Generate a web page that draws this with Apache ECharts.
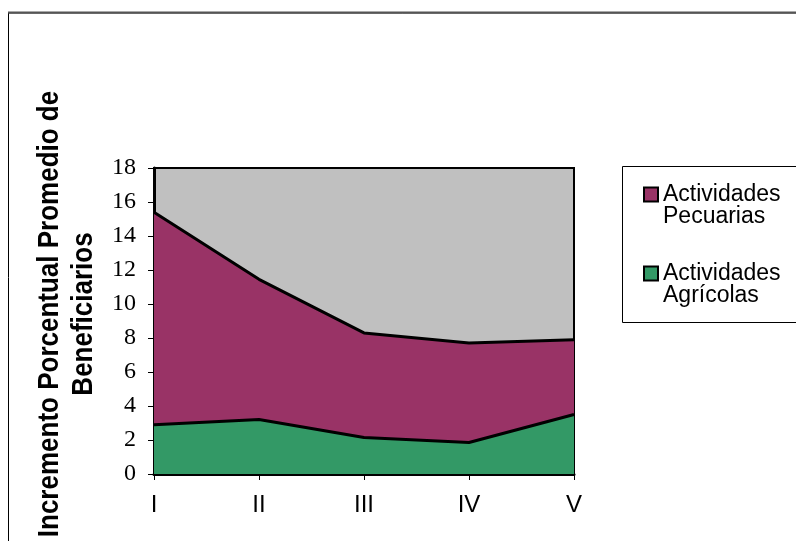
<!DOCTYPE html>
<html>
<head>
<meta charset="utf-8">
<script src="https://cdn.jsdelivr.net/npm/echarts@6/dist/echarts.min.js"></script>
<style>
  html, body { margin: 0; padding: 0; background: #fff; }
  #chart { width: 796px; height: 541px; }
</style>
</head>
<body>
<div id="chart"></div>
<script>
// Stages (Roman numerals) along the horizontal axis
const categories = ['I', 'II', 'III', 'IV', 'V'];
// Average percentage increase per stage, stacked: agricultural at the bottom
const agricolas = [2.9, 3.2, 2.15, 1.85, 3.5];
const pecuarias = [12.5, 8.25, 6.15, 5.85, 4.4];
// Vertical axis range and step
const yMin = 0, yMax = 18, yStep = 2;

const seriesNames = {
  pec: 'Actividades Pecuarias',
  agr: 'Actividades Agrícolas'
};

const chart = echarts.init(document.getElementById('chart'), null, { renderer: 'canvas' });

chart.setOption({
  animation: false,
  backgroundColor: '#ffffff',
  grid: {
    left: 154, top: 168, width: 420, height: 306,
    show: true,
    backgroundColor: '#C0C0C0',
    borderColor: '#000',
    borderWidth: 2
  },
  xAxis: {
    type: 'category',
    data: categories,
    boundaryGap: false,
    axisLine: { lineStyle: { color: '#000', width: 3 } },
    axisTick: { show: true, length: 6, lineStyle: { color: '#000', width: 1 } },
    axisLabel: {
      margin: 19, color: '#000',
      fontFamily: 'Liberation Sans, Arial, sans-serif', fontSize: 24
    },
    splitLine: { show: false }
  },
  yAxis: {
    type: 'value',
    min: yMin, max: yMax, interval: yStep,
    axisLine: { show: true, lineStyle: { color: '#000', width: 3 } },
    axisTick: { show: true, length: 6, lineStyle: { color: '#000', width: 1 } },
    axisLabel: {
      margin: 18, color: '#000',
      fontFamily: 'Liberation Serif, Times New Roman, serif', fontSize: 24
    },
    splitLine: { show: false }
  },
  legend: {
    orient: 'vertical',
    left: 643, top: 161,
    padding: 0,
    itemWidth: 14, itemHeight: 14,
    itemGap: 12,
    icon: 'rect',
    data: [seriesNames.pec, seriesNames.agr],
    // blank leading line keeps the swatch level with the first text line
    formatter: name => '\n' + name.replace(' ', '\n'),
    textStyle: {
      color: '#000',
      fontFamily: 'Liberation Sans, Arial, sans-serif',
      fontSize: 23,
      lineHeight: 22
    },
    itemStyle: { borderColor: '#000', borderWidth: 2 }
  },
  graphic: [
    // outer chart frame, running off the right and bottom edges
    {
      type: 'rect', silent: true, z: -10,
      shape: { x: 8.5, y: 13, width: 820, height: 560 },
      style: { fill: 'none', stroke: '#000', lineWidth: 1 }
    },
    {
      type: 'line', silent: true, z: -9,
      shape: { x1: 8, y1: 12.5, x2: 796, y2: 12.5 },
      style: { stroke: '#555', lineWidth: 2 }
    },
    // legend frame
    {
      type: 'rect', silent: true, z: -5,
      shape: { x: 622.5, y: 166.5, width: 220, height: 156 },
      style: { fill: '#fff', stroke: '#000', lineWidth: 1 }
    },
    // vertical axis title (two centred lines)
    {
      type: 'text', silent: true,
      x: 67, y: 314, rotation: Math.PI / 2,
      scaleX: 1, scaleY: 1.12,
      style: {
        text: 'Incremento Porcentual Promedio de\nBeneficiarios',
        align: 'center', verticalAlign: 'middle',
        fontFamily: 'Liberation Sans, Arial, sans-serif',
        fontWeight: 'bold', fontSize: 26, lineHeight: 31,
        fill: '#000'
      }
    }
  ],
  series: [
    {
      name: seriesNames.agr,
      type: 'line',
      stack: 'total',
      data: agricolas,
      showSymbol: false,
      lineStyle: { color: '#000', width: 3 },
      areaStyle: { color: '#339966', opacity: 1 },
      itemStyle: { color: '#339966', borderColor: '#000', borderWidth: 2 },
      z: 3
    },
    {
      name: seriesNames.pec,
      type: 'line',
      stack: 'total',
      data: pecuarias,
      showSymbol: false,
      lineStyle: { color: '#000', width: 3 },
      areaStyle: { color: '#993366', opacity: 1 },
      itemStyle: { color: '#993366', borderColor: '#000', borderWidth: 2 },
      z: 2
    }
  ]
});
</script>
</body>
</html>
